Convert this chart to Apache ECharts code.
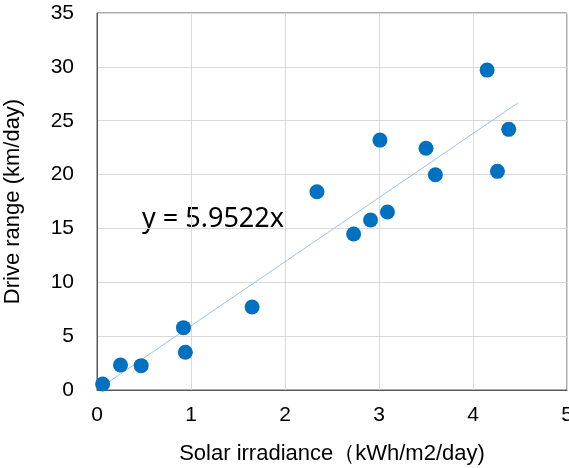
<!DOCTYPE html>
<html>
<head>
<meta charset="utf-8">
<script src="https://cdn.jsdelivr.net/npm/echarts@6/dist/echarts.min.js"></script>
<style>
  html, body { margin: 0; padding: 0; background: #fff; }
  #chart { width: 569px; height: 468px; }
</style>
</head>
<body>
<div id="chart"></div>
<script>
// Solar irradiance (kWh/m2/day) for each observation
const irradiance = [0.06, 0.25, 0.47, 0.92, 0.94, 1.65, 2.34, 2.73, 2.91, 3.01, 3.09, 3.50, 3.60, 4.15, 4.26, 4.38];
// Drive range (km/day) for each observation
const driveRange = [0.56, 2.32, 2.26, 5.79, 3.50, 7.70, 18.41, 14.48, 15.78, 23.20, 16.53, 22.44, 19.99, 29.70, 20.30, 24.20];
// Linear trend through the origin
const trendSlope = 5.9522;
const trendXRange = [0.06, 4.48];
const xTicks = [0, 1, 2, 3, 4, 5];
const yTicks = [0, 5, 10, 15, 20, 25, 30, 35];

const points = irradiance.map((x, i) => [x, driveRange[i]]);
const trend = trendXRange.map(x => [x, trendSlope * x]);

const chart = echarts.init(document.getElementById('chart'), null, { renderer: 'canvas' });
chart.setOption({
  animation: false,
  grid: {
    left: 97, right: 2, top: 13, bottom: 78,
    containLabel: false,
    outerBoundsMode: 'none',
    show: true, borderColor: '#595959', borderWidth: 1
  },
  xAxis: {
    type: 'value',
    min: xTicks[0], max: xTicks[xTicks.length - 1], interval: 1,
    name: 'Solar irradiance（kWh/m2/day)',
    nameLocation: 'middle', nameGap: 53,
    nameTextStyle: { fontFamily: 'Liberation Sans', fontSize: 22, color: '#000' },
    axisLine: { show: true, lineStyle: { color: '#595959', width: 1 } },
    axisTick: { show: false },
    axisLabel: { margin: 15, fontFamily: 'Liberation Sans', fontSize: 21, color: '#000' },
    splitLine: { show: true, lineStyle: { color: '#d9d9d9', width: 1 } }
  },
  yAxis: {
    type: 'value',
    min: yTicks[0], max: yTicks[yTicks.length - 1], interval: 5,
    name: 'Drive range (km/day)',
    nameLocation: 'middle', nameGap: 73,
    nameTextStyle: { fontFamily: 'Liberation Sans', fontSize: 22, color: '#000' },
    axisLine: { show: true, lineStyle: { color: '#595959', width: 1 } },
    axisTick: { show: false },
    axisLabel: { margin: 23, fontFamily: 'Liberation Sans', fontSize: 21, color: '#000' },
    splitLine: { show: true, lineStyle: { color: '#d9d9d9', width: 1 } }
  },
  series: [
    {
      type: 'line',
      data: trend,
      showSymbol: false,
      lineStyle: { color: '#9dc3e6', width: 1 },
      z: 1
    },
    {
      type: 'scatter',
      data: points,
      symbol: 'circle',
      symbolSize: 15,
      itemStyle: { color: '#0070c0', opacity: 1 },
      z: 3
    }
  ],
  graphic: [
    {
      type: 'text',
      x: 142, y: 219,
      style: {
        text: 'y = ' + trendSlope + 'x',
        font: '27px "Noto Sans"',
        fill: '#000',
        verticalAlign: 'middle'
      }
    }
  ]
});
</script>
</body>
</html>
